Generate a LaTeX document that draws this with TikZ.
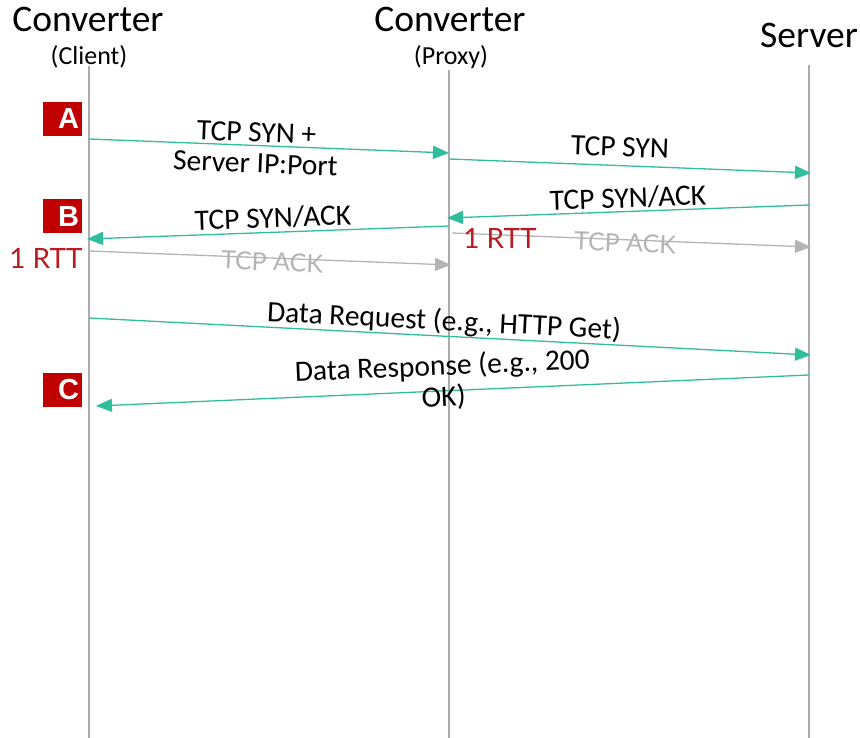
\documentclass[tikz,border=0pt]{standalone}
\usepackage{fontspec}
\setmainfont{Carlito}
\newfontfamily\latofont{Lato}
\newfontfamily\boxfont{Liberation Sans}
\usetikzlibrary{arrows.meta}
\definecolor{teal1}{HTML}{2EBE9C}
\definecolor{gray1}{HTML}{B4B4B4}
\definecolor{life}{HTML}{ABABB0}
\definecolor{boxred}{HTML}{C00000}
\definecolor{rttred}{HTML}{B81C22}
\tikzset{
  title/.style={font=\fontsize{37.5}{40}\selectfont, anchor=base, inner sep=0pt},
  subtitle/.style={font=\fontsize{26}{30}\selectfont, anchor=base, inner sep=0pt},
  lifeline/.style={draw=life, line width=1.2pt},
  msg/.style={draw=teal1, line width=1.3pt, -{Triangle[length=16pt,width=13pt]}},
  gmsg/.style={draw=gray1, line width=1.3pt, -{Triangle[length=16pt,width=13pt]}},
  lbl/.style={font=\fontsize{29.5}{31}\selectfont, inner sep=0pt, align=center},
  glbl/.style={font=\latofont\fontsize{25}{28}\selectfont, text=gray1, inner sep=0pt},
  rtt/.style={font=\latofont\fontsize{28}{30}\selectfont, text=rttred, inner sep=0pt},
  redbox/.style={fill=boxred, text=white, font=\boxfont\bfseries\fontsize{29}{30}\selectfont,
    minimum width=39pt, minimum height=34pt, inner sep=2pt, text width=33pt, align=right},
}
\begin{document}
\begin{tikzpicture}[x=1pt,y=-1pt]
\useasboundingbox (0,0) rectangle (860,738);
% titles
\node[title] (t1) at (88,32) {Converter};
\node[subtitle] (s1) at (89,65) {(Client)};
\node[title] (t2) at (450,32) {Converter};
\node[subtitle] (s2) at (451,65) {(Proxy)};
\node[title] (t3) at (809,48) {Server};
% lifelines
\coordinate (ctop) at (89,66);
\coordinate (cbot) at (89,738);
\coordinate (ptop) at (449,70);
\coordinate (pbot) at (449,738);
\coordinate (stop) at (809,65);
\coordinate (sbot) at (809,738);
\draw[lifeline] (ctop) -- (cbot);
\draw[lifeline] (ptop) -- (pbot);
\draw[lifeline] (stop) -- (sbot);
% red boxes
\node[redbox] (A) at (62.5,119) {A};
\node[redbox] (B) at (62.5,216.5) {B};
\node[redbox] (C) at (62.5,389.5) {C};
% message endpoints
\coordinate (m1a) at (89,139);  \coordinate (m1b) at (449,153);
\coordinate (m2a) at (449,159); \coordinate (m2b) at (811,173);
\coordinate (m3a) at (809,205); \coordinate (m3b) at (447,218);
\coordinate (m4a) at (449,226); \coordinate (m4b) at (87,239);
\coordinate (m5a) at (89,251);  \coordinate (m5b) at (451,265);
\coordinate (m6a) at (452,233); \coordinate (m6b) at (811,247);
\coordinate (m7a) at (89,318);  \coordinate (m7b) at (811,355);
\coordinate (m8a) at (809,375); \coordinate (m8b) at (96,406);
\draw[msg] (m1a) -- (m1b);
\draw[msg] (m2a) -- (m2b);
\draw[msg] (m3a) -- (m3b);
\draw[msg] (m4a) -- (m4b);
\draw[gmsg] (m5a) -- (m5b);
\draw[gmsg] (m6a) -- (m6b);
\draw[msg] (m7a) -- (m7b);
\draw[msg] (m8a) -- (m8b);
% labels
\node[lbl, rotate=-2.2] (l1) at (256,148) {TCP SYN +\\Server IP:Port};
\node[lbl, rotate=-2.2] (l2) at (620,147) {TCP SYN};
\node[lbl, rotate=2.1] (l3) at (628,198) {TCP SYN/ACK};
\node[lbl, rotate=2.1] (l4) at (273,218) {TCP SYN/ACK};
\node[glbl, rotate=-2.2] (l5) at (272,262) {TCP ACK};
\node[glbl, rotate=-2.2] (l6) at (625,243) {TCP ACK};
\node[rtt] (r1) at (500,238) {1 RTT};
\node[rtt] (r2) at (46,258) {1 RTT};
\node[lbl, rotate=-2.9] (l7) at (444,322) {Data Request (e.g., HTTP Get)};
\node[lbl, rotate=2.5] (l8) at (443,382) {Data Response (e.g., 200\\OK)};
\end{tikzpicture}
\end{document}
